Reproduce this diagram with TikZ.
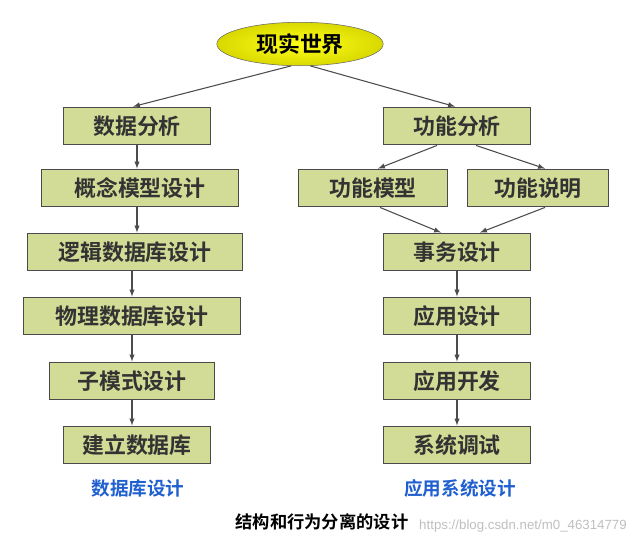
\documentclass[tikz,border=0pt]{standalone}
\usepackage{fontspec}
\setmainfont{Liberation Sans}
\newfontfamily\cjk{Noto Sans CJK SC}[BoldFont={* Bold}]
\usetikzlibrary{shapes,arrows,positioning,calc,shadings}

\definecolor{boxgreen}{HTML}{D2DC96}
\definecolor{boxline}{HTML}{4A4A4A}
\definecolor{capblue}{HTML}{1F5FD0}

\begin{document}
\begin{tikzpicture}[x=0.0264583cm, y=-0.0264583cm,
    dstep/.style={rectangle, draw=boxline, thick, fill=boxgreen, minimum height=1.0cm, inner sep=2pt, font=\cjk\bfseries\fontsize{16.5}{18}\selectfont, text=black!80},
    conn/.style={-latex, thick, draw=black!70},
    colcap/.style={font=\cjk\bfseries\fontsize{14}{16}\selectfont, text=capblue}]

    \useasboundingbox (0,0) rectangle (632,547);

    \node[ellipse, draw=black!60, inner color=yellow!90!white, outer color=yellow!70!olive, minimum width=4.4cm, minimum height=1.15cm, inner sep=1pt, font=\cjk\bfseries\fontsize{16.5}{18}\selectfont] (world) at (300,44) {现实世界};

    \node[dstep, minimum width=3.9cm] (a1) at (137,126) {数据分析};
    \node[dstep, minimum width=5.2cm] (a2) at (140,188) {概念模型设计};
    \node[dstep, minimum width=5.7cm] (a3) at (135,252) {逻辑数据库设计};
    \node[dstep, minimum width=5.75cm] (a4) at (132,316) {物理数据库设计};
    \node[dstep, minimum width=4.35cm] (a5) at (132,381) {子模式设计};
    \node[dstep, minimum width=3.9cm] (a6) at (137,445) {建立数据库};
    \node[colcap] (capl) at (138,488) {数据库设计};

    \node[dstep, minimum width=3.9cm] (b1) at (457,126) {功能分析};
    \node[dstep, minimum width=3.95cm] (b2) at (373,188) {功能模型};
    \node[dstep, minimum width=3.75cm] (b3) at (538,188) {功能说明};
    \node[dstep, minimum width=3.9cm] (b4) at (457,252) {事务设计};
    \node[dstep, minimum width=3.9cm] (b5) at (457,316) {应用设计};
    \node[dstep, minimum width=3.9cm] (b6) at (457,381) {应用开发};
    \node[dstep, minimum width=3.9cm] (b7) at (457,445) {系统调试};
    \node[colcap] (capr) at (460,488) {应用系统设计};

    \node[font=\cjk\bfseries\fontsize{13}{15}\selectfont] (title) at (322,522) {结构和行为分离的设计};
    \node[font=\fontsize{10}{12}\selectfont, text=black!25] (mark) at (523,526) {https://blog.csdn.net/m0\_46314779};

    % world to the two columns
    \draw[conn] (world.248) -- ($(a1.north)+(-4,0)$);
    \draw[conn] (world.295) -- ($(b1.north)+(-2,0)$);

    % left column
    \draw[conn] (a1.south) -- (a1.south |- a2.north);
    \draw[conn] (a1.south |- a2.south) -- (a1.south |- a3.north);
    \draw[conn] (a5.south |- a3.south) -- (a5.north |- a4.north);
    \draw[conn] (a5.north |- a4.south) -- (a5.north);
    \draw[conn] (a5.south) -- (a5.south |- a6.north);

    % right column
    \draw[conn] ($(b1.south)+(-20,0)$) -- ($(b2.north)+(5,0)$);
    \draw[conn] ($(b1.south)+(19,0)$) -- ($(b3.north)+(7,0)$);
    \draw[conn] ($(b2.south)+(7,0)$) -- ($(b4.north)+(-16,0)$);
    \draw[conn] ($(b3.south)+(7,0)$) -- ($(b4.north)+(23,0)$);
    \draw[conn] (b4) -- (b5);
    \draw[conn] (b5) -- (b6);
    \draw[conn] (b6) -- (b7);

\end{tikzpicture}
\end{document}
